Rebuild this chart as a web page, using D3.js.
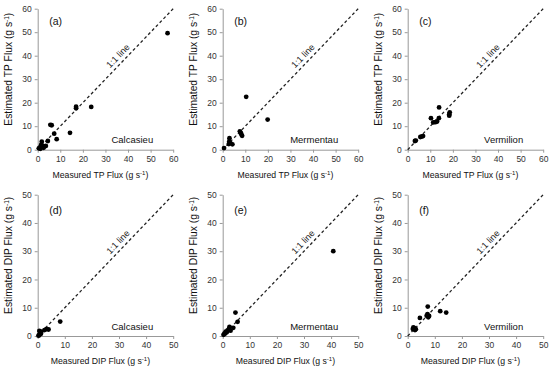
<!DOCTYPE html>
<html>
<head>
<meta charset="utf-8">
<script src="https://cdn.jsdelivr.net/npm/d3@7"></script>
<style>
body { margin: 0; background: #fff; }
svg { font-family: "Liberation Sans", Arial, sans-serif; }
.axis path, .axis line { stroke: #999; }
.axis text { fill: #333; font-size: 8.5px; }
</style>
</head>
<body>
<div id="chart"></div>
<script>
// measured vs estimated flux, [measured, estimated] in g s-1
var calcasieuTP = [[57.5, 49.6], [17.0, 18.3], [17.0, 17.6], [23.7, 18.2], [5.6, 10.6], [6.2, 10.4],
    [7.3, 6.8], [14.3, 7.2], [8.4, 4.5], [4.5, 3.7], [1.8, 3.4], [1.5, 2.0], [2.2, 1.5], [3.0, 1.4],
    [3.6, 1.6], [1.0, 1.0], [0.5, 0.6], [2.6, 0.8], [1.2, 0.4]];
var mermentauTP = [[10.4, 22.5], [19.9, 12.8], [7.6, 7.8], [8.0, 7.1], [8.3, 6.5], [8.6, 5.9],
    [3.0, 4.9], [2.9, 3.5], [3.4, 2.8], [4.3, 2.3], [2.7, 2.4], [0.6, 0.7]];
var vermilionTP = [[13.9, 18.0], [10.3, 13.4], [13.8, 13.4], [11.3, 11.6], [12.3, 11.7], [13.0, 12.0],
    [18.6, 15.9], [18.4, 15.1], [18.4, 14.5], [3.2, 3.7], [3.6, 3.9], [5.6, 5.4], [6.2, 5.6], [6.8, 5.8]];
var calcasieuDIP = [[8.3, 5.1], [4.0, 2.3], [3.2, 2.4], [2.5, 2.1], [1.3, 1.5], [1.0, 1.0],
    [0.8, 0.6], [0.5, 0.3], [0.3, 0.1], [1.2, 0.8], [0.6, 1.8]];
var mermentauDIP = [[40.8, 30.0], [4.7, 8.3], [5.5, 5.0], [3.9, 2.9], [2.5, 3.2], [2.3, 2.5],
    [1.8, 2.0], [2.9, 1.9], [1.5, 1.3], [1.1, 1.5], [0.6, 0.8], [0.3, 0.4], [0.9, 0.9]];
var vermilionDIP = [[7.4, 10.4], [12.0, 8.8], [14.2, 8.3], [4.5, 6.4], [7.0, 7.2], [7.6, 6.6],
    [7.3, 7.7], [7.9, 7.1], [2.1, 3.0], [2.7, 2.1], [1.9, 2.5], [2.5, 2.8], [3.0, 2.4]];

var panelLabels = ["(a)", "(b)", "(c)", "(d)", "(e)", "(f)"];
var sites = ["Calcasieu", "Mermentau", "Vermilion"];
var variables = ["TP", "DIP"];
var axisMax = [60, 50];
var tpTicks = [0, 10, 20, 30, 40, 50, 60];
var dipTicks = [0, 10, 20, 30, 40, 50];
var series = [calcasieuTP, mermentauTP, vermilionTP, calcasieuDIP, mermentauDIP, vermilionDIP];

var width = 550, height = 371;
var colStep = 185, plotW = 135.5;
var rows = [{ top: 8.7, bottom: 149.7 }, { top: 194.7, bottom: 336 }];

var svg = d3.select("#chart").append("svg")
    .attr("width", width)
    .attr("height", height);

function drawPanel(i) {
    var row = Math.floor(i / 3), col = i % 3;
    var left = 37.7 + col * colStep;
    var top = rows[row].top, bottom = rows[row].bottom;
    var max = axisMax[row];
    var ticks = row === 0 ? tpTicks : dipTicks;
    var data = series[i];

    var x = d3.scaleLinear().domain([0, max]).range([left, left + plotW]);
    var y = d3.scaleLinear().domain([0, max]).range([bottom, top]);

    var g = svg.append("g");

    g.append("g")
        .attr("class", "axis")
        .attr("transform", "translate(0," + bottom + ")")
        .call(d3.axisBottom(x).tickValues(ticks).tickSize(3).tickSizeOuter(0).tickPadding(3));

    g.append("g")
        .attr("class", "axis")
        .attr("transform", "translate(" + left + ",0)")
        .call(d3.axisLeft(y).tickValues(ticks).tickSize(3).tickSizeOuter(0).tickPadding(3));

    // 1:1 line
    g.append("line")
        .attr("x1", x(0)).attr("y1", y(0))
        .attr("x2", x(max)).attr("y2", y(max))
        .attr("stroke", "#222")
        .attr("stroke-width", 1.3)
        .attr("stroke-dasharray", "3,2.5");

    var angle = Math.atan2(y(0) - y(max), x(max) - x(0)) * 180 / Math.PI;
    var t = max * 0.63;
    g.append("text")
        .attr("transform", "translate(" + x(t) + "," + y(t) + ") rotate(" + (-angle) + ")")
        .attr("dy", -4)
        .attr("text-anchor", "middle")
        .style("font-size", "9px")
        .attr("fill", "#222")
        .text("1:1 line");

    g.selectAll(".dot")
        .data(data)
        .enter().append("circle")
        .attr("class", "dot")
        .attr("cx", function (d) { return x(d[0]); })
        .attr("cy", function (d) { return y(d[1]); })
        .attr("r", 2.4)
        .attr("fill", "#000");

    g.append("text")
        .attr("x", left + 11.5)
        .attr("y", top + (row === 0 ? 16.5 : 19.5))
        .style("font-size", "10.5px")
        .attr("fill", "#111")
        .text(panelLabels[i]);

    g.append("text")
        .attr("x", left + plotW - 20)
        .attr("y", bottom - (row === 0 ? 6.5 : 6))
        .attr("text-anchor", "end")
        .style("font-size", "9.5px")
        .attr("fill", "#111")
        .text(sites[col]);

    // axis titles
    var xt = g.append("text")
        .attr("x", left + plotW / 2 - 5)
        .attr("y", bottom + 28)
        .attr("text-anchor", "middle")
        .style("font-size", "8.7px")
        .attr("fill", "#111");
    xt.append("tspan").text("Measured " + variables[row] + " Flux (g s");
    xt.append("tspan").attr("dy", -3).style("font-size", "6px").text("-1");
    xt.append("tspan").attr("dy", 3).text(")");

    var yt = g.append("text")
        .attr("transform", "translate(" + (left - 26) + "," + ((top + bottom) / 2 - 10) + ") rotate(-90)")
        .attr("text-anchor", "middle")
        .style("font-size", "10.3px")
        .attr("fill", "#111");
    yt.append("tspan").text("Estimated " + variables[row] + " Flux (g s");
    yt.append("tspan").attr("dy", -3).style("font-size", "6.5px").text("-1");
    yt.append("tspan").attr("dy", 3).text(")");
}

for (var i = 0; i < 6; i++) {
    drawPanel(i);
}
</script>
</body>
</html>
